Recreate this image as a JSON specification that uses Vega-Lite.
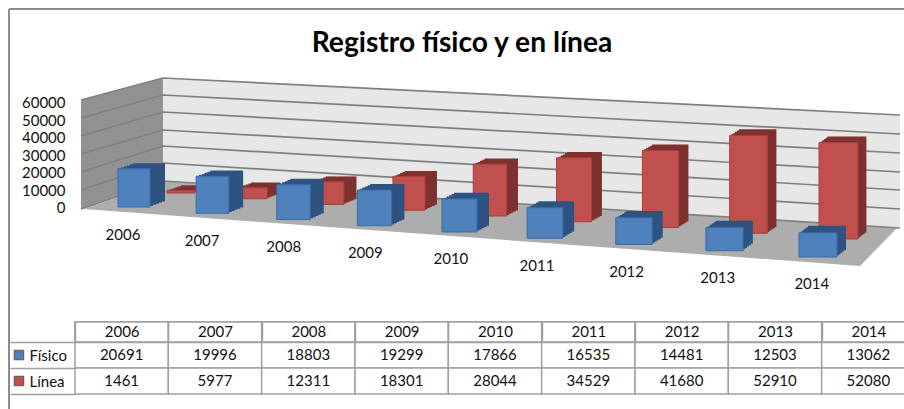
{
"$schema":"https://vega.github.io/schema/vega-lite/v6.json",
"padding":0,
"background":"white",
"spacing":20,
"bounds":"flush",
"config":{"view":{"stroke":null},"font":"Lato"},
"datasets":{
"d":[
{"year":2006,"Físico":20691,"Línea":1461},
{"year":2007,"Físico":19996,"Línea":5977},
{"year":2008,"Físico":18803,"Línea":12311},
{"year":2009,"Físico":19299,"Línea":18301},
{"year":2010,"Físico":17866,"Línea":28044},
{"year":2011,"Físico":16535,"Línea":34529},
{"year":2012,"Físico":14481,"Línea":41680},
{"year":2013,"Físico":12503,"Línea":52910},
{"year":2014,"Físico":13062,"Línea":52080}
],
"long":[
{"year":"2006","serie":"Físico","v":20691},{"year":"2007","serie":"Físico","v":19996},{"year":"2008","serie":"Físico","v":18803},{"year":"2009","serie":"Físico","v":19299},{"year":"2010","serie":"Físico","v":17866},{"year":"2011","serie":"Físico","v":16535},{"year":"2012","serie":"Físico","v":14481},{"year":"2013","serie":"Físico","v":12503},{"year":"2014","serie":"Físico","v":13062},
{"year":"2006","serie":"Línea","v":1461},{"year":"2007","serie":"Línea","v":5977},{"year":"2008","serie":"Línea","v":12311},{"year":"2009","serie":"Línea","v":18301},{"year":"2010","serie":"Línea","v":28044},{"year":"2011","serie":"Línea","v":34529},{"year":"2012","serie":"Línea","v":41680},{"year":"2013","serie":"Línea","v":52910},{"year":"2014","serie":"Línea","v":52080}
],
"walls":[
{"u":2005.325,"t":57838,"b":-1081,"w":"left"},{"u":2006.369,"t":69730,"b":14054,"w":"left"},
{"u":2006.369,"t":69730,"b":14054,"w":"back"},{"u":2014.877,"t":49730,"b":-11351,"w":"back"}
],
"floor":[
{"u":2005.363,"t":-1081,"b":-1081},{"u":2006.395,"t":14054,"b":-4324},{"u":2014.449,"t":-9946,"b":-31892},{"u":2014.845,"t":-11351,"b":-11351}
],
"grid":[
{"u":2005.325,"g":60000,"y":57838},{"u":2006.369,"g":60000,"y":69730},{"u":2014.877,"g":60000,"y":49730},
{"u":2005.325,"g":50000,"y":48108},{"u":2006.369,"g":50000,"y":60541},{"u":2014.877,"g":50000,"y":39459},
{"u":2005.325,"g":40000,"y":38378},{"u":2006.369,"g":40000,"y":51351},{"u":2014.877,"g":40000,"y":29189},
{"u":2005.325,"g":30000,"y":28649},{"u":2006.369,"g":30000,"y":41622},{"u":2014.877,"g":30000,"y":18919},
{"u":2005.325,"g":20000,"y":18919},{"u":2006.369,"g":20000,"y":32973},{"u":2014.877,"g":20000,"y":9189},
{"u":2005.325,"g":10000,"y":9189},{"u":2006.369,"g":10000,"y":23784},{"u":2014.877,"g":10000,"y":-1081},
{"u":2005.325,"g":0,"y":-1081},{"u":2006.369,"g":0,"y":14054},{"u":2014.877,"g":0,"y":-11351}
]
},
"vconcat":[
{
"width":904,"height":322,
"title":{"text":"Registro físico y en línea","font":"Lato","fontSize":28.2,"fontWeight":"bold","color":"#000","anchor":"middle","frame":"group","dx":10,"dy":56,"baseline":"bottom","offset":-30},
"resolve":{"scale":{"size":"independent"}},
"layer":[
{"data":{"name":"walls"},"mark":{"type":"area"},
"encoding":{"x":{"field":"u","type":"quantitative","scale":{"domain":[2006,2007,2008,2009,2010,2011,2012,2013,2014],"range":[134,212.5,293.5,374.5,459.5,545,634,724.5,818],"padding":0},"axis":null},
"y":{"field":"t","type":"quantitative","scale":{"domain":[0,60000],"range":[207,96]},"axis":{"values":[0,10000,20000,30000,40000,50000,60000],"format":"d","title":null,"domain":false,"ticks":false,"grid":false,"offset":-68,"labelPadding":3,"labelFontSize":15,"labelColor":"#111","labelFont":"Lato","labelOffset":{"expr":"datum.value/60000*6+0.5"}}},"y2":{"field":"b"},
"color":{"field":"w","type":"nominal","scale":{"domain":["left","back"],"range":["#919191","#e7e7e7"]},"legend":null}}},
{"data":{"name":"floor"},"mark":{"type":"area","color":"#adadad"},
"encoding":{"x":{"field":"u","type":"quantitative","scale":{"domain":[2006,2007,2008,2009,2010,2011,2012,2013,2014],"range":[134,212.5,293.5,374.5,459.5,545,634,724.5,818],"padding":0}},"y":{"field":"t","type":"quantitative","scale":{"domain":[0,60000],"range":[207,96]}},"y2":{"field":"b"}}},
{"data":{"name":"grid"},"mark":{"type":"line","color":"#808080","strokeWidth":1.7},
"encoding":{"x":{"field":"u","type":"quantitative","scale":{"domain":[2006,2007,2008,2009,2010,2011,2012,2013,2014],"range":[134,212.5,293.5,374.5,459.5,545,634,724.5,818],"padding":0}},"y":{"field":"y","type":"quantitative","scale":{"domain":[0,60000],"range":[207,96]}},"detail":{"field":"g"}}},
{"data":{"name":"d"},
"encoding":{"x":{"field":"year","type":"quantitative","scale":{"domain":[2006,2007,2008,2009,2010,2011,2012,2013,2014],"range":[134,212.5,293.5,374.5,459.5,545,634,724.5,818],"padding":0}},"y":{"field":"Línea","type":"quantitative","scale":{"domain":[0,60000],"range":[207,96]}},"y2":{"datum":0},"size":{"field":"year","type":"quantitative","scale":{"domain":[2006,2014],"range":[28,39]},"legend":null}},
"layer":[
{"mark":{"type":"bar","color":"#7f3130","xOffset":{"expr":"[47,40,35,34.5,30.5,29,26.5,24,20.5][datum.year-2006]+1*(14-0.7*(datum.year-2006))"},"yOffset":{"expr":"-14+5.75*(datum.year-2006)-1*(5+0.15*(datum.year-2006))"},"y2Offset":{"expr":"-14+5.75*(datum.year-2006)-1*(5+0.15*(datum.year-2006))"}}},
{"mark":{"type":"bar","color":"#7f3130","xOffset":{"expr":"[47,40,35,34.5,30.5,29,26.5,24,20.5][datum.year-2006]+0.8*(14-0.7*(datum.year-2006))"},"yOffset":{"expr":"-14+5.75*(datum.year-2006)-0.8*(5+0.15*(datum.year-2006))"},"y2Offset":{"expr":"-14+5.75*(datum.year-2006)-0.8*(5+0.15*(datum.year-2006))"}}},
{"mark":{"type":"bar","color":"#7f3130","xOffset":{"expr":"[47,40,35,34.5,30.5,29,26.5,24,20.5][datum.year-2006]+0.6*(14-0.7*(datum.year-2006))"},"yOffset":{"expr":"-14+5.75*(datum.year-2006)-0.6*(5+0.15*(datum.year-2006))"},"y2Offset":{"expr":"-14+5.75*(datum.year-2006)-0.6*(5+0.15*(datum.year-2006))"}}},
{"mark":{"type":"bar","color":"#7f3130","xOffset":{"expr":"[47,40,35,34.5,30.5,29,26.5,24,20.5][datum.year-2006]+0.4*(14-0.7*(datum.year-2006))"},"yOffset":{"expr":"-14+5.75*(datum.year-2006)-0.4*(5+0.15*(datum.year-2006))"},"y2Offset":{"expr":"-14+5.75*(datum.year-2006)-0.4*(5+0.15*(datum.year-2006))"}}},
{"mark":{"type":"bar","color":"#7f3130","xOffset":{"expr":"[47,40,35,34.5,30.5,29,26.5,24,20.5][datum.year-2006]+0.2*(14-0.7*(datum.year-2006))"},"yOffset":{"expr":"-14+5.75*(datum.year-2006)-0.2*(5+0.15*(datum.year-2006))"},"y2Offset":{"expr":"-14+5.75*(datum.year-2006)-0.2*(5+0.15*(datum.year-2006))"}}},
{"mark":{"type":"bar","color":"#c0504d","stroke":"#a5403d","strokeWidth":1,"xOffset":{"expr":"[47,40,35,34.5,30.5,29,26.5,24,20.5][datum.year-2006]"},"yOffset":{"expr":"-14+5.75*(datum.year-2006)"},"y2Offset":{"expr":"-14+5.75*(datum.year-2006)"}}}
]},
{"data":{"name":"d"},
"encoding":{"x":{"field":"year","type":"quantitative","scale":{"domain":[2006,2007,2008,2009,2010,2011,2012,2013,2014],"range":[134,212.5,293.5,374.5,459.5,545,634,724.5,818],"padding":0}},"y":{"field":"Físico","type":"quantitative","scale":{"domain":[0,60000],"range":[207,96]}},"y2":{"datum":0},"size":{"field":"year","type":"quantitative","scale":{"domain":[2006,2014],"range":[32,38]},"legend":null}},
"layer":[
{"mark":{"type":"bar","color":"#2f5381","xOffset":{"expr":"1*(15-0.75*(datum.year-2006))"},"yOffset":{"expr":"6.25*(datum.year-2006)-1*(5.5+0.2*(datum.year-2006))"},"y2Offset":{"expr":"6.25*(datum.year-2006)-1*(5.5+0.2*(datum.year-2006))"}}},
{"mark":{"type":"bar","color":"#2f5381","xOffset":{"expr":"0.8*(15-0.75*(datum.year-2006))"},"yOffset":{"expr":"6.25*(datum.year-2006)-0.8*(5.5+0.2*(datum.year-2006))"},"y2Offset":{"expr":"6.25*(datum.year-2006)-0.8*(5.5+0.2*(datum.year-2006))"}}},
{"mark":{"type":"bar","color":"#2f5381","xOffset":{"expr":"0.6*(15-0.75*(datum.year-2006))"},"yOffset":{"expr":"6.25*(datum.year-2006)-0.6*(5.5+0.2*(datum.year-2006))"},"y2Offset":{"expr":"6.25*(datum.year-2006)-0.6*(5.5+0.2*(datum.year-2006))"}}},
{"mark":{"type":"bar","color":"#2f5381","xOffset":{"expr":"0.4*(15-0.75*(datum.year-2006))"},"yOffset":{"expr":"6.25*(datum.year-2006)-0.4*(5.5+0.2*(datum.year-2006))"},"y2Offset":{"expr":"6.25*(datum.year-2006)-0.4*(5.5+0.2*(datum.year-2006))"}}},
{"mark":{"type":"bar","color":"#2f5381","xOffset":{"expr":"0.2*(15-0.75*(datum.year-2006))"},"yOffset":{"expr":"6.25*(datum.year-2006)-0.2*(5.5+0.2*(datum.year-2006))"},"y2Offset":{"expr":"6.25*(datum.year-2006)-0.2*(5.5+0.2*(datum.year-2006))"}}},
{"mark":{"type":"bar","color":"#4f81bd","stroke":"#3a6ca5","strokeWidth":1,"yOffset":{"expr":"6.25*(datum.year-2006)"},"y2Offset":{"expr":"6.25*(datum.year-2006)"}}}
]},
{"data":{"name":"d"},"mark":{"type":"text","fontSize":15,"color":"#111","font":"Lato","xOffset":{"expr":"-11+0.6*(datum.year-2006)"},"yOffset":{"expr":"27.5+6.2*(datum.year-2006)"}},
"encoding":{"x":{"field":"year","type":"quantitative","scale":{"domain":[2006,2007,2008,2009,2010,2011,2012,2013,2014],"range":[134,212.5,293.5,374.5,459.5,545,634,724.5,818],"padding":0}},"y":{"datum":0,"scale":{"domain":[0,60000],"range":[207,96]}},"text":{"field":"year","type":"nominal"}}},
{"data":{"values":[{"f":1}]},"mark":{"type":"rule","color":"#8c8c8c","strokeWidth":2},"encoding":{"x":{"value":9},"x2":{"value":904},"y":{"value":9}}},
{"data":{"values":[{"f":1}]},"mark":{"type":"rule","color":"#8c8c8c","strokeWidth":2},"encoding":{"x":{"value":9},"y":{"value":9},"y2":{"value":342}}}
]
},
{
"width":904,"height":52,
"data":{"name":"long"},
"encoding":{
"x":{"field":"year","type":"ordinal","scale":{"type":"band","range":[75,915],"paddingInner":0,"paddingOuter":0},"axis":{"orient":"top","title":null,"labelAngle":0,"tickBand":"extent","tickSize":20,"tickColor":"#a0a0a0","tickWidth":1.5,"domainColor":"#a0a0a0","domainWidth":1.5,"labelPadding":-17,"labelFontSize":15,"labelColor":"#111"}},
"y":{"field":"serie","type":"nominal","scale":{"domain":["Físico","Línea"]},"axis":{"title":null,"offset":-75,"tickBand":"extent","tickSize":65,"tickColor":"#a0a0a0","tickWidth":1.5,"domain":false,"labelPadding":-19,"labelAlign":"left","labelFontSize":15,"labelColor":"#111"}}
},
"layer":[
{"mark":{"type":"rect","fill":"white","stroke":"#a0a0a0","strokeWidth":1.5}},
{"mark":{"type":"rect","fill":"white","stroke":"#a0a0a0","strokeWidth":1.5},"encoding":{"y":{"value":-20},"y2":{"value":0}}},
{"mark":{"type":"text","fontSize":15,"color":"#111"},"encoding":{"text":{"field":"v","type":"quantitative","format":"d"}}},
{"transform":[{"filter":"datum.year=='2006'"}],"mark":{"type":"point","shape":"square","filled":true,"opacity":1,"size":90,"stroke":"#555","strokeWidth":1,"xOffset":-102.7},
"encoding":{"fill":{"field":"serie","type":"nominal","scale":{"domain":["Físico","Línea"],"range":["#4f81bd","#c0504d"]},"legend":null}}},
{"data":{"values":[{"f":1}]},"mark":{"type":"rule","color":"#8c8c8c","strokeWidth":2},"encoding":{"x":{"value":9},"y":{"value":-1},"y2":{"value":67}}}
]
}
]
}
